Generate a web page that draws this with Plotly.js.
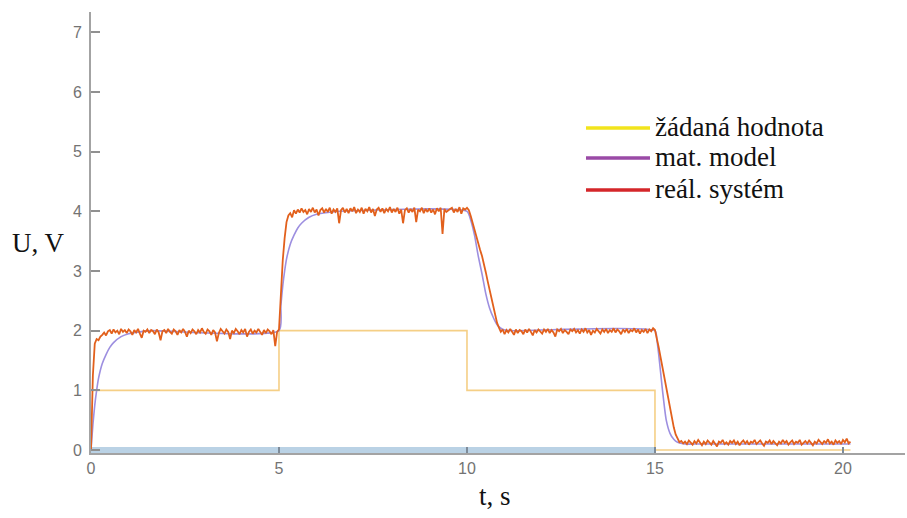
<!DOCTYPE html>
<html>
<head>
<meta charset="utf-8">
<script src="https://cdn.plot.ly/plotly-3.0.1.min.js"></script>
<style>html,body{margin:0;padding:0;background:#fff;}#chart{width:907px;height:518px;}</style>
</head>
<body>
<div id="chart"></div>
<script>
// setpoint (žádaná hodnota)
var setT = [0, 5, 10, 15, 20.2];
var setU = [1, 2, 1, 0, 0];

// zero reference band
var zeroT = [0, 15];
var zeroU = [0, 0];

// mathematical model (mat. model)
var modelT = [0,0.05,0.1,0.15,0.2,0.3,0.4,0.5,0.6,0.8,1.0,1.3,1.6,
  5,5.05,5.1,5.15,5.2,5.3,5.4,5.5,5.6,5.8,6.0,6.3,6.6,
  10,10.1,10.2,10.3,10.4,10.5,10.6,10.7,10.8,10.9,11.0,11.2,
  15,15.05,15.1,15.2,15.3,15.4,15.5,15.6,15.8,16.0,20.2];
var modelU = [0,0.42,0.75,1.0,1.2,1.45,1.6,1.72,1.8,1.9,1.95,1.98,2.0,
  2.0,2.42,2.75,3.0,3.2,3.45,3.6,3.72,3.8,3.9,3.95,3.98,4.0,
  4.0,3.85,3.6,3.25,2.95,2.62,2.38,2.22,2.1,2.04,2.01,2.0,
  2.0,1.85,1.6,1.0,0.5,0.28,0.18,0.13,0.1,0.1,0.1];

// real system (reál. systém), sampled every 0.05 s from t = 0
var realT0 = 0, realDt = 0.05;
var realU = [
  0, 1.25, 1.78, 1.86, 1.84, 1.90, 1.93, 1.97, 1.92, 1.99,
  2.01, 1.95, 2.02, 1.97, 2.00, 1.94, 2.03, 1.98, 2.01, 1.96,
  2.02, 1.99, 1.93, 2.01, 1.97, 2.03, 1.95, 1.88, 2.00, 1.98,
  2.02, 1.96, 2.01, 1.99, 1.94, 2.02, 1.97, 1.84, 1.99, 2.01,
  1.96, 2.03, 1.98, 1.95, 2.02, 1.99, 1.93, 2.01, 1.97, 2.03,
  1.98, 1.90, 2.00, 1.96, 2.02, 1.99, 1.94, 2.01, 1.97, 2.04,
  1.98, 1.95, 2.02, 1.99, 1.93, 2.01, 1.97, 1.82, 1.96, 2.03,
  1.99, 1.95, 2.02, 1.98, 1.86, 2.00, 1.96, 2.03, 1.99, 1.94,
  2.01, 1.97, 2.03, 1.90, 1.98, 2.02, 1.95, 2.00, 1.97, 2.03,
  1.98, 1.93, 2.01, 1.96, 2.02, 1.99, 1.94, 2.01, 1.74, 1.98,
  2.02, 2.62, 3.18, 3.55, 3.82, 3.93, 3.97, 3.90, 4.02, 3.96,
  4.03, 3.98, 4.05, 3.99, 4.02, 3.95, 4.04, 3.99, 4.06, 3.98,
  4.03, 3.93, 4.02, 4.05, 3.98, 4.04, 3.99, 4.06, 3.96, 4.03,
  3.99, 4.05, 3.80, 4.02, 4.06, 3.98, 4.04, 3.97, 4.05, 4.00,
  4.07, 3.97, 4.03, 3.99, 4.06, 3.96, 4.04, 4.00, 4.07, 3.98,
  4.04, 3.92, 4.03, 4.06, 3.99, 4.05, 3.97, 4.04, 4.00, 4.07,
  3.98, 4.04, 3.99, 4.06, 3.96, 4.03, 3.80, 4.02, 4.05, 3.98,
  4.04, 3.99, 4.06, 3.82, 4.03, 4.00, 4.06, 3.97, 4.04, 3.99,
  4.05, 3.98, 4.03, 3.95, 4.05, 4.00, 4.06, 3.62, 4.04, 3.99,
  4.02, 4.04, 4.06, 3.98, 4.04, 3.99, 4.07, 3.96, 4.05, 4.03,
  4.06, 4.02, 3.92, 3.80, 3.68, 3.56, 3.45, 3.35, 3.25, 3.13,
  2.98, 2.83, 2.68, 2.52, 2.38, 2.24, 2.13, 2.05, 1.98, 2.02,
  1.94, 2.01, 1.97, 2.03, 1.98, 1.93, 2.02, 1.96, 2.01, 1.99,
  1.94, 2.02, 1.97, 2.03, 1.98, 1.92, 2.01, 1.97, 2.02, 1.99,
  1.95, 2.02, 1.98, 2.03, 1.96, 2.01, 1.97, 1.90, 2.02, 1.99,
  2.03, 1.96, 2.01, 1.98, 1.94, 2.02, 1.99, 2.03, 1.97, 2.01,
  1.95, 2.02, 1.98, 2.04, 1.97, 2.01, 1.93, 2.00, 1.97, 2.03,
  1.99, 1.95, 2.02, 1.98, 2.03, 1.96, 2.01, 1.98, 2.04, 1.97,
  2.02, 1.99, 1.94, 2.02, 1.98, 2.03, 1.96, 2.01, 1.99, 2.04,
  1.97, 2.02, 1.95, 2.01, 1.98, 2.03, 1.96, 2.02, 1.99, 2.04,
  2.01, 1.88, 1.72, 1.55, 1.38, 1.20, 1.02, 0.85, 0.68, 0.52,
  0.38, 0.26, 0.18, 0.13, 0.15, 0.11, 0.14, 0.10, 0.16, 0.12,
  0.09, 0.15, 0.11, 0.17, 0.12, 0.08, 0.14, 0.10, 0.16, 0.13,
  0.09, 0.15, 0.11, 0.06, 0.14, 0.12, 0.17, 0.10, 0.13, 0.09,
  0.15, 0.12, 0.16, 0.10, 0.14, 0.08, 0.13, 0.16, 0.11, 0.15,
  0.09, 0.14, 0.12, 0.17, 0.10, 0.13, 0.16, 0.11, 0.07, 0.14,
  0.12, 0.16, 0.10, 0.15, 0.12, 0.08, 0.14, 0.11, 0.17, 0.12,
  0.15, 0.09, 0.13, 0.16, 0.10, 0.14, 0.12, 0.17, 0.09, 0.13,
  0.15, 0.11, 0.16, 0.12, 0.08, 0.14, 0.11, 0.17, 0.13, 0.10,
  0.15, 0.12, 0.18, 0.11, 0.14, 0.09, 0.16, 0.12, 0.15, 0.10,
  0.17, 0.13, 0.19, 0.11, 0.14
];

var xTicks = [0, 5, 10, 15, 20];
var yTicks = [0, 1, 2, 3, 4, 5, 6, 7];
var legendNames = ['žádaná hodnota', 'mat. model', 'reál. systém'];
var legendColors = ['#f2e41c', '#9a4aa6', '#d4262a'];

// layout helpers (pixel -> paper)
var L = 91, T = 12, W = 814, H = 441;
function px(x) { return (x - L) / W; }
function py(y) { return (T + H - y) / H; }

var SERIF = "'Liberation Serif', 'Times New Roman', Times, serif";
var SANS = "'Liberation Sans', Arial, sans-serif";

var traces = [
  {x: zeroT, y: zeroU, mode: 'lines', line: {color: '#bad2e5', width: 6}, cliponaxis: false, showlegend: false, hoverinfo: 'skip'},
  {x: setT, y: setU, mode: 'lines', line: {color: '#f5cf86', width: 1.6, shape: 'hv'}, showlegend: false},
  {x: modelT, y: modelU, mode: 'lines', line: {color: '#9d8fe0', width: 1.6, shape: 'spline', smoothing: 0.6}, showlegend: false},
  {y: realU, x0: realT0, dx: realDt, mode: 'lines', line: {color: '#e2601c', width: 1.8}, showlegend: false}
];

var shapes = [], annotations = [];
var legY = [128, 158, 190];
for (var i = 0; i < legendNames.length; i++) {
  shapes.push({type: 'line', xref: 'paper', yref: 'paper', x0: px(586), x1: px(650), y0: py(legY[i]), y1: py(legY[i]),
    line: {color: legendColors[i], width: 3.5}});
  annotations.push({xref: 'paper', yref: 'paper', x: px(653), y: py(legY[i] - 1), xanchor: 'left', yanchor: 'middle',
    text: legendNames[i], showarrow: false, font: {family: SERIF, size: 27, color: '#111'}});
}
annotations.push({xref: 'paper', yref: 'paper', x: px(10), y: py(243), xanchor: 'left', yanchor: 'middle',
  text: 'U, V', showarrow: false, font: {family: SERIF, size: 27, color: '#111'}});
annotations.push({xref: 'paper', yref: 'paper', x: px(495), y: py(496), xanchor: 'center', yanchor: 'middle',
  text: 't, s', showarrow: false, font: {family: SERIF, size: 27, color: '#111'}});

var layout = {
  width: 907, height: 518,
  margin: {l: L, r: 907 - L - W, t: T, b: 518 - T - H, pad: 0},
  paper_bgcolor: '#fff', plot_bgcolor: '#fff',
  showlegend: false,
  xaxis: {range: [0, 21.65], tickvals: xTicks, ticktext: xTicks.map(String), ticks: 'inside', ticklen: 6, tickwidth: 2,
    tickcolor: '#7d8b99', showline: true, linecolor: '#a3a3a3', linewidth: 2, showgrid: false, zeroline: false,
    tickfont: {family: SANS, size: 16, color: '#737373'}},
  yaxis: {range: [-0.05, 7.34], tickvals: yTicks, ticktext: yTicks.map(String), ticks: 'inside', ticklen: 9, tickwidth: 2,
    tickcolor: '#909090', showline: true, linecolor: '#a3a3a3', linewidth: 2, showgrid: false, zeroline: false,
    ticklabelstandoff: 4,
    tickfont: {family: SANS, size: 16, color: '#737373'}},
  shapes: shapes,
  annotations: annotations
};

Plotly.newPlot('chart', traces, layout, {displayModeBar: false, staticPlot: true});
</script>
</body>
</html>
